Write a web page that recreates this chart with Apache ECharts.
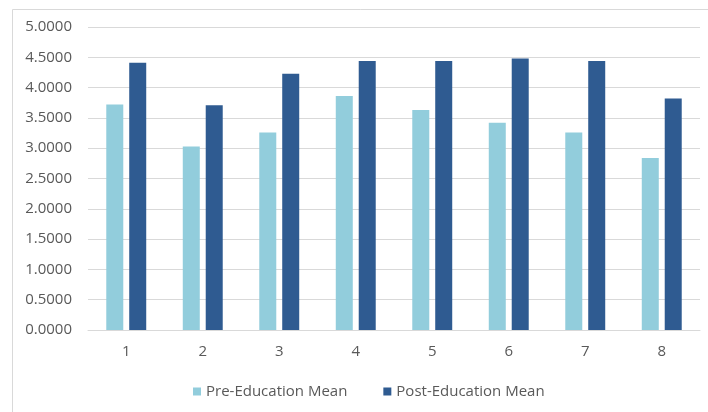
<!DOCTYPE html>
<html>
<head>
<meta charset="utf-8">
<script src="https://cdn.jsdelivr.net/npm/echarts@6/dist/echarts.min.js"></script>
<style>
  html, body { margin: 0; padding: 0; background: #ffffff; }
  #chart { width: 708px; height: 412px; }
</style>
</head>
<body>
<div id="chart"></div>
<script>
// Survey item numbers and mean scores before / after the education session
const categories = ['1', '2', '3', '4', '5', '6', '7', '8'];
const preEducationMean = [3.72, 3.03, 3.26, 3.86, 3.63, 3.42, 3.26, 2.84];
const postEducationMean = [4.41, 3.71, 4.23, 4.44, 4.44, 4.48, 4.44, 3.82];
const seriesNames = ['Pre-Education Mean', 'Post-Education Mean'];

const FONT = '"Open Sans", "Noto Sans", sans-serif';
const TEXT = '#595959';

const chart = echarts.init(document.getElementById('chart'), null, { renderer: 'canvas' });

chart.setOption({
  animation: false,
  backgroundColor: '#ffffff',
  graphic: [{
    type: 'rect',
    left: 10, top: 7,
    shape: { width: 720, height: 430 },
    style: { fill: 'none', stroke: '#d9d9d9', lineWidth: 1 },
    silent: true,
    z: -1
  }],
  legend: {
    bottom: 8,
    left: 188,
    itemWidth: 8,
    itemHeight: 8,
    itemGap: 36,
    icon: 'rect',
    textStyle: { color: TEXT, fontFamily: FONT, fontSize: 15 },
    data: seriesNames
  },
  grid: { left: 88, right: 8, top: 27, bottom: 82, containLabel: false },
  xAxis: {
    type: 'category',
    data: categories,
    axisLine: { lineStyle: { color: '#d9d9d9', width: 1 } },
    axisTick: { show: false },
    axisLabel: { color: TEXT, fontFamily: FONT, fontSize: 15, margin: 14 }
  },
  yAxis: {
    type: 'value',
    min: 0, max: 5, interval: 0.5,
    axisLine: { show: false },
    axisTick: { show: false },
    splitLine: { lineStyle: { color: '#d9d9d9', width: 1 } },
    axisLabel: {
      color: TEXT, fontFamily: FONT, fontSize: 15, margin: 16,
      formatter: v => v.toFixed(4)
    }
  },
  series: [
    {
      name: seriesNames[0],
      type: 'bar',
      data: preEducationMean,
      barWidth: 17,
      barGap: '35%',
      itemStyle: { color: '#92cddc' }
    },
    {
      name: seriesNames[1],
      type: 'bar',
      data: postEducationMean,
      barWidth: 17,
      itemStyle: { color: '#2f5b91' }
    }
  ]
});
</script>
</body>
</html>
